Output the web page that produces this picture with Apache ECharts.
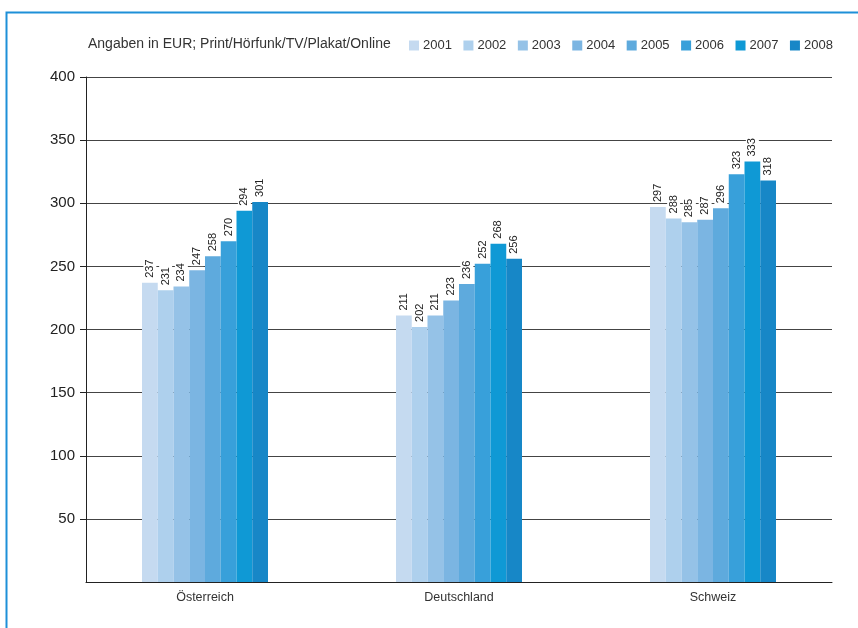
<!DOCTYPE html>
<html><head><meta charset="utf-8">
<script src="https://cdn.jsdelivr.net/npm/echarts@6/dist/echarts.min.js"></script>
<style>html,body{margin:0;padding:0;background:#fff}#c{width:858px;height:628px}</style>
</head><body><div id="c"></div>
<script>
const categories = ['Österreich', 'Deutschland', 'Schweiz'];
const years = ['2001','2002','2003','2004','2005','2006','2007','2008'];
const v2001 = [237, 211, 297];
const v2002 = [231, 202, 288];
const v2003 = [234, 211, 285];
const v2004 = [247, 223, 287];
const v2005 = [258, 236, 296];
const v2006 = [270, 252, 323];
const v2007 = [294, 268, 333];
const v2008 = [301, 256, 318];
const yTicks = [50, 100, 150, 200, 250, 300, 350, 400];
const colors = ['#c5daf0','#aed0ed','#95c2e7','#7bb5e2','#5eaadd','#38a0da','#0f99d5','#1787c7'];
const seriesValues = [v2001, v2002, v2003, v2004, v2005, v2006, v2007, v2008];
const FONT = 'Liberation Sans, Arial, sans-serif';

const chart = echarts.init(document.getElementById('c'), null, {renderer: 'canvas'});
chart.setOption({
  animation: false,
  backgroundColor: '#fff',
  textStyle: {fontFamily: FONT},
  graphic: [{
    type: 'rect', shape: {x: 6.5, y: 12.5, width: 1000, height: 1000},
    style: {fill: 'none', stroke: '#1e90d8', lineWidth: 2}, silent: true
  }],
  title: {
    text: 'Angaben in EUR; Print/Hörfunk/TV/Plakat/Online',
    left: 83, top: 32,
    textStyle: {fontSize: 14, fontWeight: 'normal', color: '#333', fontFamily: FONT}
  },
  legend: {
    data: years, left: 404, top: 34,
    icon: 'rect', itemWidth: 10, itemHeight: 10, itemGap: 11.5,
    textStyle: {fontSize: 13, color: '#333', fontFamily: FONT, padding: [0,0,0,-1]}
  },
  grid: [
    {left: 78, right: 18, top: 77, height: 505},
    {left: 86, right: 26, top: 77, height: 505}
  ],
  xAxis: [
    {type: 'category', gridIndex: 0, data: categories,
     axisLine: {show: false}, axisTick: {show: false},
     axisLabel: {fontSize: 12.5, color: '#333', margin: 9, fontFamily: FONT}},
    {type: 'value', gridIndex: 1, min: 0, max: 1,
     axisLine: {show: true, lineStyle: {color: '#222', width: 1}},
     axisTick: {show: false}, axisLabel: {show: false}, splitLine: {show: false}}
  ],
  yAxis: [
    {type: 'value', gridIndex: 0, min: 0, max: 400, show: false},
    {type: 'value', gridIndex: 1, min: 0, max: 400, interval: 50,
     axisLine: {show: true, lineStyle: {color: '#222', width: 1}},
     axisTick: {show: true, length: 6, customValues: yTicks, lineStyle: {color: '#222'}},
     axisLabel: {customValues: yTicks, fontSize: 15, color: '#222', margin: 11, fontFamily: FONT},
     splitLine: {show: true, lineStyle: {color: '#444', width: 1}}}
  ],
  series: seriesValues.map((vals, i) => ({
    name: years[i], type: 'bar', xAxisIndex: 0, yAxisIndex: 0,
    data: vals, barWidth: 15.75, barGap: '0%',
    itemStyle: {color: colors[i]},
    label: {
      show: true, position: 'top', rotate: 90, align: 'left', verticalAlign: 'middle',
      distance: 4, fontSize: 11, color: '#222', fontFamily: FONT,
      backgroundColor: '#fff', padding: [1, 1]
    }
  }))
});
</script></body></html>
